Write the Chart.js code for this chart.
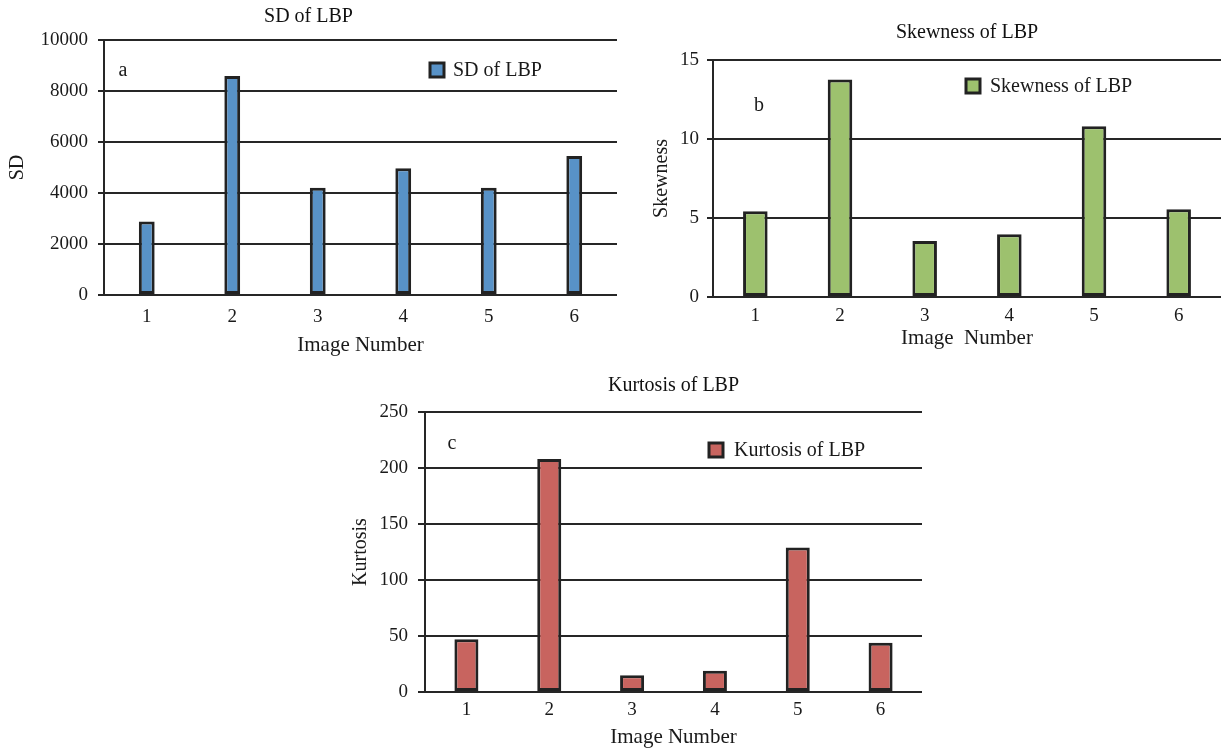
<!DOCTYPE html>
<html>
<head>
<meta charset="utf-8">
<title>LBP statistics</title>
<script src="https://cdn.jsdelivr.net/npm/chart.js@4.4.1/dist/chart.umd.min.js"></script>
<style>
  body { margin: 0; background: #fff; }
  #wrap { position: relative; width: 1221px; height: 752px; overflow: hidden; }
  canvas { position: absolute; }
  #sdChart { left: 0; top: 0; }
  #skewChart { left: 620px; top: 0; }
  #kurtChart { left: 330px; top: 360px; }
</style>
</head>
<body>
<div id="wrap">
  <canvas id="sdChart" width="617" height="362"></canvas>
  <canvas id="skewChart" width="601" height="355"></canvas>
  <canvas id="kurtChart" width="592" height="392"></canvas>
</div>
<script>
const imageNumbers = ["1", "2", "3", "4", "5", "6"];

const sdValues = [2880, 8590, 4210, 4970, 4210, 5450];
const skewnessValues = [5.43, 13.77, 3.54, 3.97, 10.81, 5.56];
const kurtosisValues = [47, 208, 15, 19, 129, 44];

const sdTicks = [0, 2000, 4000, 6000, 8000, 10000];
const skewnessTicks = [0, 5, 10, 15];
const kurtosisTicks = [0, 50, 100, 150, 200, 250];

const LINE = "#262626";

Chart.defaults.font.family = '"Liberation Serif", "DejaVu Serif", serif';
Chart.defaults.color = "#1a1a1a";

// legend box + panel letter, drawn inside the plot area
const panelNotes = {
    id: "panelNotes",
    afterDraw(chart, args, opts) {
        const { ctx, chartArea } = chart;
        const ds = chart.data.datasets[0];
        ctx.save();
        ctx.font = '20px "Liberation Serif", "DejaVu Serif", serif';
        ctx.fillStyle = "#1a1a1a";
        ctx.textBaseline = "middle";
        ctx.textAlign = "center";
        ctx.fillText(opts.letter, chartArea.left + opts.letterX, chartArea.top + opts.letterY);

        const bx = chartArea.left + opts.legendX;
        const by = chartArea.top + opts.legendY;
        ctx.fillStyle = ds.backgroundColor;
        ctx.fillRect(bx, by, 14, 14);
        ctx.strokeStyle = "#222";
        ctx.lineWidth = 3;
        ctx.strokeRect(bx, by, 14, 14);
        ctx.fillStyle = "#1a1a1a";
        ctx.textAlign = "left";
        ctx.fillText(ds.label, bx + opts.textGap, by + 7.5);
        ctx.restore();
    }
};

function makeChart(el, s) {
    return new Chart(document.getElementById(el), {
        type: "bar",
        data: {
            labels: imageNumbers,
            datasets: [{
                label: s.label,
                data: s.values,
                backgroundColor: s.color,
                borderColor: "#222",
                borderWidth: 3,
                borderSkipped: false,
                categoryPercentage: 1,
                barPercentage: s.barPct,
            }],
        },
        options: {
            responsive: false,
            animation: false,
            layout: { padding: 0 },
            plugins: {
                legend: { display: false },
                tooltip: { enabled: false },
                title: {
                    display: true,
                    text: s.label,
                    fullSize: s.titleFull,
                    color: "#111",
                    font: { size: 20, weight: "normal" },
                    padding: s.titlePad,
                },
                panelNotes: s.notes,
            },
            scales: {
                x: {
                    offset: true,
                    grid: { display: false, drawTicks: false },
                    border: { display: true, color: LINE, width: 2 },
                    ticks: { padding: s.xTickPad, font: { size: 19 } },
                    title: {
                        display: true,
                        text: s.xTitle,
                        font: { size: 21 },
                        padding: { top: 0, bottom: s.xTitleBottom },
                    },
                    afterFit: (scale) => { scale.height = s.xHeight; },
                },
                y: {
                    min: 0,
                    max: s.ticks[s.ticks.length - 1],
                    afterBuildTicks: (scale) => { scale.ticks = s.ticks.map((v) => ({ value: v })); },
                    ticks: { padding: s.yTickPad, font: { size: 19 }, callback: (v) => String(v) },
                    grid: { color: LINE, lineWidth: 2, tickLength: s.tickLen, drawTicks: true },
                    border: { display: true, color: LINE, width: 2 },
                    title: {
                        display: true,
                        text: s.yTitle,
                        font: { size: 20 },
                        padding: { top: s.yTitleOffset, bottom: 0 },
                    },
                    afterFit: (scale) => { scale.width = s.yWidth; },
                },
            },
        },
        plugins: [panelNotes],
    });
}

document.addEventListener("DOMContentLoaded", () => {
    makeChart("sdChart", {
        label: "SD of LBP", values: sdValues, ticks: sdTicks, color: "#5892c7",
        barPct: 0.185, titleFull: true, titlePad: { top: 5, bottom: 11 },
        xTitle: "Image Number", xTickPad: 11, xTitleBottom: 4, xHeight: 67,
        yTitle: "SD", yTickPad: 10, tickLen: 6, yTitleOffset: 6, yWidth: 104,
        notes: { letter: "a", letterX: 19, letterY: 31, legendX: 326, legendY: 23, textGap: 23 },
    });
    makeChart("skewChart", {
        label: "Skewness of LBP", values: skewnessValues, ticks: skewnessTicks, color: "#9dc16e",
        barPct: 0.29, titleFull: false, titlePad: { top: 21, bottom: 15 },
        xTitle: "Image  Number", xTickPad: 8, xTitleBottom: 4, xHeight: 58,
        yTitle: "Skewness", yTickPad: 8, tickLen: 6, yTitleOffset: 30, yWidth: 93,
        notes: { letter: "b", letterX: 46, letterY: 46, legendX: 253, legendY: 19, textGap: 24 },
    });
    makeChart("kurtChart", {
        label: "Kurtosis of LBP", values: kurtosisValues, ticks: kurtosisTicks, color: "#c8645f",
        barPct: 0.29, titleFull: false, titlePad: { top: 14, bottom: 14 },
        xTitle: "Image Number", xTickPad: 7, xTitleBottom: 2, xHeight: 60,
        yTitle: "Kurtosis", yTickPad: 10, tickLen: 7, yTitleOffset: 19, yWidth: 95,
        notes: { letter: "c", letterX: 27, letterY: 32, legendX: 284, legendY: 31, textGap: 25 },
    });
});
</script>
</body>
</html>
